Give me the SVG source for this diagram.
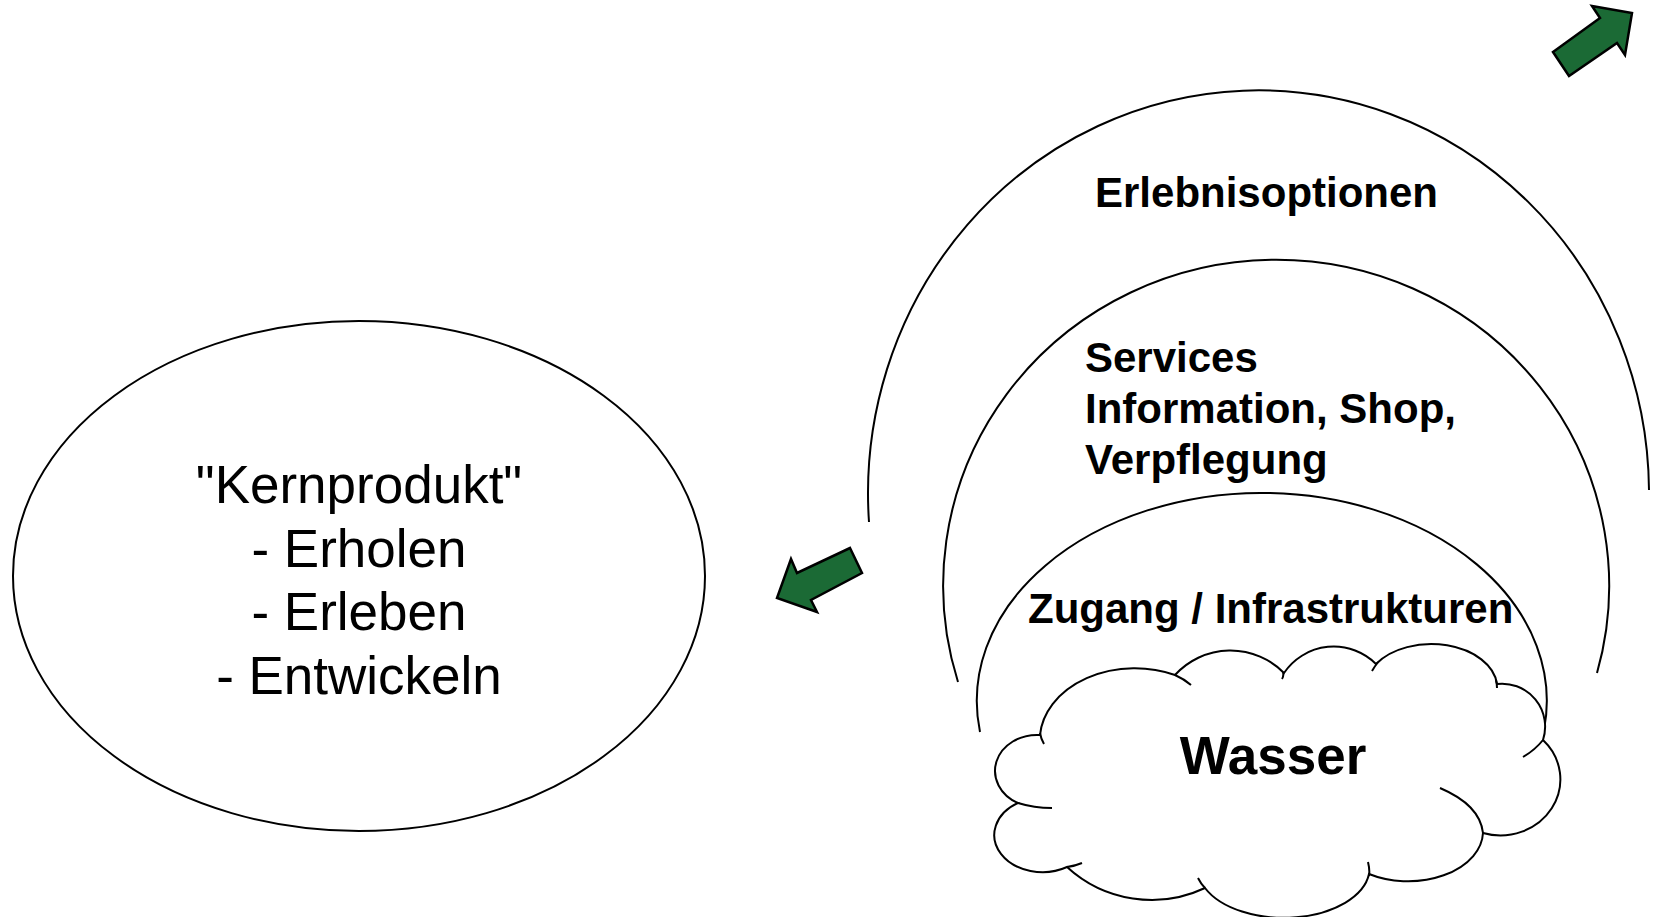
<svg xmlns="http://www.w3.org/2000/svg" width="1656" height="917" viewBox="0 0 1656 917">
  <style>
    .line { fill: none; stroke: #000; stroke-width: 2; }
    .shape { fill: #fff; stroke: #000; stroke-width: 2; }
    .arrow { fill: #1b6a35; stroke: #000; stroke-width: 2.5; stroke-linejoin: miter; }
    .core { font-family: "Liberation Sans", Arial, sans-serif; font-size: 53px; fill: #000; text-anchor: middle; }
    .layer { font-family: "Liberation Sans", Arial, sans-serif; font-size: 42px; font-weight: bold; fill: #000; }
    .water { font-family: "Liberation Sans", Arial, sans-serif; font-size: 53px; font-weight: bold; fill: #000; text-anchor: middle; }
  </style>

  <rect width="1656" height="917" fill="#fff"/>

  <!-- core product -->
  <g id="node-kernprodukt">
    <ellipse class="shape" cx="359" cy="576" rx="346" ry="255"/>
    <text class="core" x="359" y="503">"Kernprodukt"</text>
    <text class="core" x="359" y="567">- Erholen</text>
    <text class="core" x="359" y="630">- Erleben</text>
    <text class="core" x="359" y="694">- Entwickeln</text>
  </g>

  <!-- outer layer -->
  <g id="node-erlebnisoptionen">
    <path class="line" d="M 869 522 A 390.5 403 0 1 1 1649 490"/>
    <text class="layer" x="1095" y="207">Erlebnisoptionen</text>
  </g>

  <!-- middle layer -->
  <g id="node-services">
    <path class="line" d="M 958 682 A 333 326 0 1 1 1597 673"/>
    <text class="layer" x="1085" y="372">Services</text>
    <text class="layer" x="1085" y="423">Information, Shop,</text>
    <text class="layer" x="1085" y="474">Verpflegung</text>
  </g>

  <!-- inner layer -->
  <g id="node-zugang">
    <path class="line" d="M 980 732 A 285 208 0 1 1 1544 730"/>
    <text class="layer" x="1028" y="623">Zugang / Infrastrukturen</text>
  </g>

  <!-- water cloud -->
  <g id="node-wasser">
    <path class="shape" d="M 1040 735
      A 95 72 0 0 1 1175 675
      A 75 75 0 0 1 1284 673
      A 60 60 0 0 1 1376 664
      A 66 44 0 0 1 1497 684
      A 43 43 0 0 1 1543 740
      A 60 56 0 0 1 1483 833
      A 75 50 0 0 1 1369 874
      A 86 50 0 0 1 1205 888
      A 125 125 0 0 1 1067 867
      A 48 37 0 0 1 1018 803
      A 42 36 0 0 1 1040 735 Z"/>
    <path class="line" d="M 1040 733 Q 1041 739 1044 744
      M 1175 675 Q 1184 679 1191 685
      M 1283 672 Q 1284 676 1282 679
      M 1372 671 Q 1375 666 1378 662
      M 1496 680 Q 1497 684 1497 688
      M 1543 740 Q 1535 750 1523 757
      M 1440 788 Q 1480 805 1483 833
      M 1368 862 Q 1370 870 1369 876
      M 1205 888 Q 1201 884 1198 878
      M 1067 867 Q 1075 866 1082 863
      M 1018 803 Q 1034 808 1052 808"/>
    <text class="water" x="1273" y="774">Wasser</text>
  </g>

  <!-- block arrows -->
  <g id="connectors">
    <polygon class="arrow" points="1553,52 1600,18 1592,6 1632,13 1625,55 1617,43 1569,76"/>
    <polygon class="arrow" points="850,548 862,573 811,600 817,612 777,598 791,559 797,573"/>
  </g>
</svg>
